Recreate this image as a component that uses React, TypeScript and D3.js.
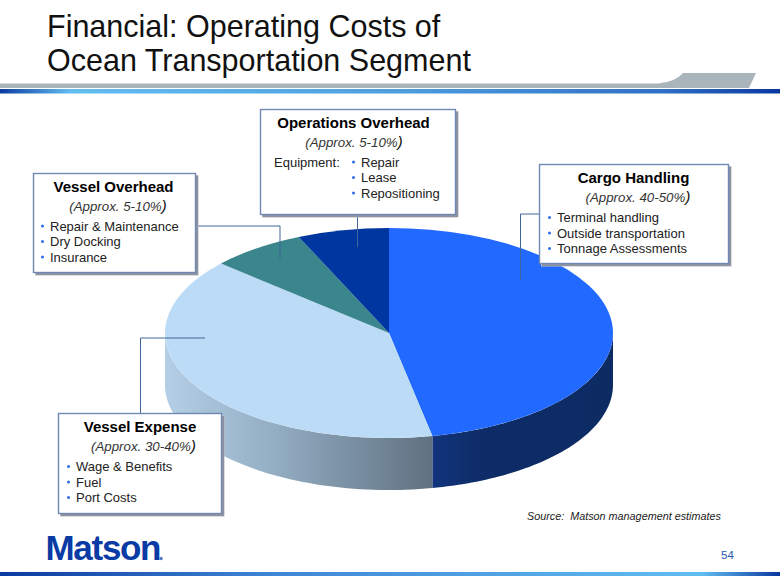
import React from "react";
import * as d3 from "d3";

const segments = ["Cargo Handling", "Vessel Expense", "Vessel Overhead", "Operations Overhead"];
const shares = [46.9, 39.6, 6.9, 6.6];
const topColors = ["#2169FF", "#BBDBF7", "#3B868C", "#0036A0"];
const wallFills = ["url(#wallCargo)", "url(#wallExpense)", "#2d6a70", "#02236e"];
const titleLines = ["Financial: Operating Costs of", "Ocean Transportation Segment"];
const sourceText = "Source:  Matson management estimates";
const pageNumber = "54";

const callouts = [
  { title: "Cargo Handling", approx: "(Approx. 40-50%", items: ["Terminal handling", "Outside transportation", "Tonnage Assessments"],
    x: 539, y: 164, w: 189, h: 99, cx: 633.5, ax: 638, tx: 557, base: 222 },
  { title: "Vessel Expense", approx: "(Approx. 30-40%", items: ["Wage & Benefits", "Fuel", "Port Costs"],
    x: 58, y: 413, w: 163, h: 100, cx: 140, ax: 143.5, tx: 76, base: 471 },
  { title: "Vessel Overhead", approx: "(Approx. 5-10%", items: ["Repair & Maintenance", "Dry Docking", "Insurance"],
    x: 33, y: 173, w: 162, h: 99, cx: 113.5, ax: 118, tx: 50, base: 230.5 },
  { title: "Operations Overhead", approx: "(Approx. 5-10%", items: ["Repair", "Lease", "Repositioning"],
    x: 260, y: 109, w: 195, h: 105, cx: 353.5, ax: 354, tx: 361, base: 166.5, lead: "Equipment:" },
];

const leaders = [
  [[539, 214], [520.5, 214], [520.5, 280]],
  [[140.5, 413], [140.5, 338], [205, 338]],
  [[195, 226], [280, 226], [280, 260]],
  [[357.5, 214], [357.5, 247]],
];

const W = 780, H = 585;
const cx = 389, cy = 333, rx = 224, ry = 105, depth = 52;
const FONT = "'Liberation Sans', Arial, sans-serif";

const pie = d3.pie<number>().sort(null).value((d) => d);
const arcs = pie(shares);
const arcGen = d3.arc<d3.PieArcDatum<number>>().innerRadius(0).outerRadius(rx);
const lineGen = d3.line();

function wallPath(a0: number, a1: number) {
  const s = Math.max(a0, Math.PI / 2), e = Math.min(a1, (3 * Math.PI) / 2);
  if (e <= s) return null;
  const ts = d3.range(0, 61).map((i) => s + ((e - s) * i) / 60);
  const top = ts.map((t) => [cx + rx * Math.sin(t), cy - ry * Math.cos(t)] as [number, number]);
  const bottom = [...top].reverse().map(([x, y]) => [x, y + depth] as [number, number]);
  return lineGen([...top, ...bottom]) + "Z";
}

function Callout({ c }: { c: (typeof callouts)[number] }) {
  return (
    <g fontFamily={FONT}>
      <rect x={c.x + 2} y={c.y + 2} width={c.w + 1.5} height={c.h + 1.5} fill="#b9bcc2" />
      <rect x={c.x + 3} y={c.y + 3} width={c.w} height={c.h} fill="#8f94a0" />
      <rect x={c.x + 0.5} y={c.y + 0.5} width={c.w} height={c.h} fill="#fff" stroke="#7089b4" strokeWidth={1.4} />
      <text x={c.cx} y={c.y + 18.5} textAnchor="middle" fontSize={15} fontWeight={700} fill="#000">{c.title}</text>
      <text x={c.ax} y={c.y + 37.5} textAnchor="middle" fontSize={13.3} fontStyle="italic" fill="#333">{c.approx}
        <tspan fontSize={15.5} fill="#111">)</tspan>
      </text>
      {c.lead && <text x={c.x + 14} y={c.base} fontSize={13} fill="#222">{c.lead}</text>}
      {c.items.map((it, i) => (
        <g key={it}>
          <circle cx={c.tx - 7.5} cy={c.base + i * 15.5 - 4.5} r={1.5} fill="#2a6be8" />
          <text x={c.tx} y={c.base + i * 15.5} fontSize={13} fill="#222">{it}</text>
        </g>
      ))}
    </g>
  );
}

export default function App() {
  return (
    <svg width={W} height={H} viewBox={`0 0 ${W} ${H}`} style={{ position: "fixed", left: 0, top: 0, background: "#fff" }}>
      <defs>
        <linearGradient id="barTop" x1="0" x2="1" y1="0" y2="0">
          <stop offset="0" stopColor="#0b3aa0" />
          <stop offset="0.09" stopColor="#62bdf0" />
          <stop offset="0.5" stopColor="#4e9fe0" />
          <stop offset="0.85" stopColor="#2f6fc4" />
          <stop offset="1" stopColor="#0a37a0" />
        </linearGradient>
        <linearGradient id="barBottom" x1="0" x2="1" y1="0" y2="0">
          <stop offset="0" stopColor="#0b3aa0" />
          <stop offset="0.35" stopColor="#3f86d6" />
          <stop offset="0.9" stopColor="#62bdf0" />
          <stop offset="1" stopColor="#0a37a0" />
        </linearGradient>
        <linearGradient id="wallExpense" gradientUnits="userSpaceOnUse" x1={165} x2={433} y1={0} y2={0}>
          <stop offset="0" stopColor="#b4cfe6" />
          <stop offset="0.4" stopColor="#94aec4" />
          <stop offset="1" stopColor="#5f7180" />
        </linearGradient>
        <linearGradient id="wallCargo" gradientUnits="userSpaceOnUse" x1={433} x2={613} y1={0} y2={0}>
          <stop offset="0" stopColor="#12347c" />
          <stop offset="0.25" stopColor="#0d2c68" />
          <stop offset="1" stopColor="#0d2b63" />
        </linearGradient>
      </defs>

      <g fontFamily={FONT} fontSize={30.5} fill="#111">
        {titleLines.map((t, i) => (
          <text key={t} x={47} y={37 + i * 33.5}>{t}</text>
        ))}
      </g>
      <path d="M0 83H660Q675 82 683 73H756L749 88H0Z" fill="#a9b5ba" />
      <rect x={0} y={83} width={660} height={1} fill="#d5dadc" />
      <rect x={0} y={89} width={W} height={4.5} fill="url(#barTop)" />

      {arcs.map((a, i) => {
        const d = wallPath(a.startAngle, a.endAngle);
        return d ? <path key={i} d={d} fill={wallFills[i]} /> : null;
      })}
      <g transform={`translate(${cx},${cy}) scale(1,${ry / rx})`}>
        {arcs.map((a, i) => (
          <path key={segments[i]} d={arcGen(a) ?? ""} fill={topColors[i]} />
        ))}
      </g>

      {leaders.map((pts, i) => (
        <path key={i} d={lineGen(pts as [number, number][]) ?? ""} fill="none" stroke="#3f6699" strokeWidth={1} />
      ))}

      {callouts.map((c) => <Callout key={c.title} c={c} />)}

      <text x={527} y={520} fontFamily={FONT} fontSize={10.8} fontStyle="italic" fill="#222" xmlSpace="preserve">{sourceText}</text>
      <text x={721} y={559} fontFamily={FONT} fontSize={11.5} fill="#2a55b5">{pageNumber}</text>
      <text x={45.5} y={560} fontFamily={FONT} fontSize={35} fontWeight={700} fill="#0a3ba5" letterSpacing={-1.3}>Matson</text>
      <circle cx={161} cy={558.5} r={1.8} fill="#5a7cc0" />
      <rect x={0} y={572} width={W} height={4} fill="url(#barBottom)" />
    </svg>
  );
}
